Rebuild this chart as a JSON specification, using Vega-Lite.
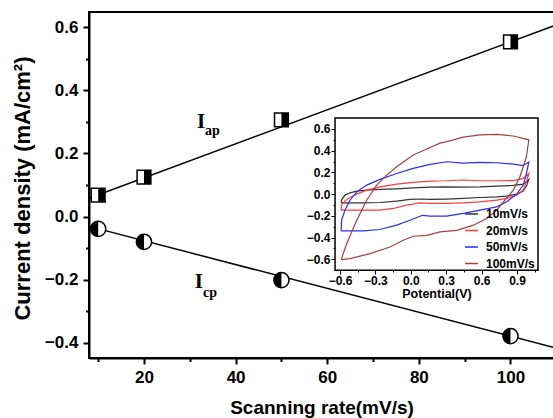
{
  "$schema": "https://vega.github.io/schema/vega-lite/v6.json",
  "width": 465,
  "height": 346,
  "autosize": {"type": "none"},
  "padding": {"left": 89, "top": 12, "right": 0, "bottom": 60},
  "background": "white",
  "config": {
    "view": {"stroke": "black", "strokeWidth": 2},
    "axis": {"grid": false, "labelColor": "black", "titleColor": "black", "tickColor": "black", "domainColor": "black", "labelFont": "Liberation Sans", "titleFont": "Liberation Sans", "labelFontWeight": "bold", "titleFontWeight": "bold"},
    "legend": {"labelFont": "Liberation Sans"}
  },
  "datasets": {
    "ap": [{"x": 10, "y": 0.068}, {"x": 20, "y": 0.125}, {"x": 50, "y": 0.306}, {"x": 100, "y": 0.553}],
    "cp": [{"x": 10, "y": -0.039}, {"x": 20, "y": -0.080}, {"x": 50, "y": -0.201}, {"x": 100, "y": -0.378}],
    "fit": [{"x": 8, "y": 0.058, "s": "ap"}, {"x": 109.5, "y": 0.604, "s": "ap"}, {"x": 8, "y": -0.031, "s": "cp"}, {"x": 109.5, "y": -0.414, "s": "cp"}],
    "lab": [{"x": 31.6, "y": 0.28, "t": "I"}, {"x": 31.1, "y": -0.226, "t": "I"}],
    "sub": [{"x": 33.3, "y": 0.258, "t": "ap"}, {"x": 32.9, "y": -0.254, "t": "cp"}],
    "frame": [{"v": -0.642, "v2": 1.078, "i": -0.70, "i2": 0.70}],
    "cv": [
      {"r": "10mV/s", "o": 1, "v": -0.59, "i": -0.08}, {"r": "10mV/s", "o": 2, "v": -0.586, "i": -0.05}, {"r": "10mV/s", "o": 3, "v": -0.558, "i": -0.009}, {"r": "10mV/s", "o": 4, "v": -0.515, "i": 0.012}, {"r": "10mV/s", "o": 5, "v": -0.458, "i": 0.028}, {"r": "10mV/s", "o": 6, "v": -0.374, "i": 0.037}, {"r": "10mV/s", "o": 7, "v": -0.261, "i": 0.043}, {"r": "10mV/s", "o": 8, "v": -0.12, "i": 0.049}, {"r": "10mV/s", "o": 9, "v": 0.021, "i": 0.058}, {"r": "10mV/s", "o": 10, "v": 0.163, "i": 0.064}, {"r": "10mV/s", "o": 11, "v": 0.304, "i": 0.067}, {"r": "10mV/s", "o": 12, "v": 0.445, "i": 0.064}, {"r": "10mV/s", "o": 13, "v": 0.586, "i": 0.067}, {"r": "10mV/s", "o": 14, "v": 0.728, "i": 0.074}, {"r": "10mV/s", "o": 15, "v": 0.869, "i": 0.08}, {"r": "10mV/s", "o": 16, "v": 0.953, "i": 0.092}, {"r": "10mV/s", "o": 17, "v": 1.0, "i": 0.136}, {"r": "10mV/s", "o": 18, "v": 0.98, "i": 0.074}, {"r": "10mV/s", "o": 19, "v": 0.953, "i": 0.028}, {"r": "10mV/s", "o": 20, "v": 0.897, "i": 0.0}, {"r": "10mV/s", "o": 21, "v": 0.813, "i": -0.018}, {"r": "10mV/s", "o": 22, "v": 0.728, "i": -0.025}, {"r": "10mV/s", "o": 23, "v": 0.586, "i": -0.031}, {"r": "10mV/s", "o": 24, "v": 0.445, "i": -0.04}, {"r": "10mV/s", "o": 25, "v": 0.304, "i": -0.046}, {"r": "10mV/s", "o": 26, "v": 0.163, "i": -0.049}, {"r": "10mV/s", "o": 27, "v": 0.106, "i": -0.045}, {"r": "10mV/s", "o": 28, "v": -0.007, "i": -0.049}, {"r": "10mV/s", "o": 29, "v": -0.12, "i": -0.065}, {"r": "10mV/s", "o": 30, "v": -0.261, "i": -0.077}, {"r": "10mV/s", "o": 31, "v": -0.403, "i": -0.08}, {"r": "10mV/s", "o": 32, "v": -0.54, "i": -0.08}, {"r": "10mV/s", "o": 33, "v": -0.59, "i": -0.08},
      {"r": "20mV/s", "o": 1, "v": -0.59, "i": -0.148}, {"r": "20mV/s", "o": 2, "v": -0.586, "i": -0.1}, {"r": "20mV/s", "o": 3, "v": -0.558, "i": -0.062}, {"r": "20mV/s", "o": 4, "v": -0.515, "i": -0.031}, {"r": "20mV/s", "o": 5, "v": -0.458, "i": 0.0}, {"r": "20mV/s", "o": 6, "v": -0.374, "i": 0.037}, {"r": "20mV/s", "o": 7, "v": -0.261, "i": 0.067}, {"r": "20mV/s", "o": 8, "v": -0.12, "i": 0.092}, {"r": "20mV/s", "o": 9, "v": 0.021, "i": 0.108}, {"r": "20mV/s", "o": 10, "v": 0.163, "i": 0.12}, {"r": "20mV/s", "o": 11, "v": 0.304, "i": 0.123}, {"r": "20mV/s", "o": 12, "v": 0.445, "i": 0.13}, {"r": "20mV/s", "o": 13, "v": 0.586, "i": 0.123}, {"r": "20mV/s", "o": 14, "v": 0.728, "i": 0.123}, {"r": "20mV/s", "o": 15, "v": 0.869, "i": 0.125}, {"r": "20mV/s", "o": 16, "v": 0.953, "i": 0.145}, {"r": "20mV/s", "o": 17, "v": 1.0, "i": 0.19}, {"r": "20mV/s", "o": 18, "v": 0.98, "i": 0.114}, {"r": "20mV/s", "o": 19, "v": 0.953, "i": 0.037}, {"r": "20mV/s", "o": 20, "v": 0.897, "i": -0.009}, {"r": "20mV/s", "o": 21, "v": 0.813, "i": -0.04}, {"r": "20mV/s", "o": 22, "v": 0.728, "i": -0.056}, {"r": "20mV/s", "o": 23, "v": 0.586, "i": -0.071}, {"r": "20mV/s", "o": 24, "v": 0.445, "i": -0.08}, {"r": "20mV/s", "o": 25, "v": 0.304, "i": -0.086}, {"r": "20mV/s", "o": 26, "v": 0.163, "i": -0.086}, {"r": "20mV/s", "o": 27, "v": 0.078, "i": -0.08}, {"r": "20mV/s", "o": 28, "v": -0.035, "i": -0.102}, {"r": "20mV/s", "o": 29, "v": -0.148, "i": -0.132}, {"r": "20mV/s", "o": 30, "v": -0.261, "i": -0.148}, {"r": "20mV/s", "o": 31, "v": -0.403, "i": -0.148}, {"r": "20mV/s", "o": 32, "v": -0.59, "i": -0.148},
      {"r": "50mV/s", "o": 1, "v": -0.59, "i": -0.339}, {"r": "50mV/s", "o": 2, "v": -0.586, "i": -0.24}, {"r": "50mV/s", "o": 3, "v": -0.558, "i": -0.148}, {"r": "50mV/s", "o": 4, "v": -0.515, "i": -0.056}, {"r": "50mV/s", "o": 5, "v": -0.458, "i": 0.021}, {"r": "50mV/s", "o": 6, "v": -0.374, "i": 0.083}, {"r": "50mV/s", "o": 7, "v": -0.261, "i": 0.136}, {"r": "50mV/s", "o": 8, "v": -0.12, "i": 0.19}, {"r": "50mV/s", "o": 9, "v": 0.021, "i": 0.237}, {"r": "50mV/s", "o": 10, "v": 0.163, "i": 0.274}, {"r": "50mV/s", "o": 11, "v": 0.304, "i": 0.298}, {"r": "50mV/s", "o": 12, "v": 0.445, "i": 0.285}, {"r": "50mV/s", "o": 13, "v": 0.586, "i": 0.292}, {"r": "50mV/s", "o": 14, "v": 0.728, "i": 0.289}, {"r": "50mV/s", "o": 15, "v": 0.869, "i": 0.277}, {"r": "50mV/s", "o": 16, "v": 0.953, "i": 0.262}, {"r": "50mV/s", "o": 17, "v": 1.0, "i": 0.295}, {"r": "50mV/s", "o": 18, "v": 0.98, "i": 0.19}, {"r": "50mV/s", "o": 19, "v": 0.953, "i": 0.083}, {"r": "50mV/s", "o": 20, "v": 0.897, "i": 0.0}, {"r": "50mV/s", "o": 21, "v": 0.813, "i": -0.071}, {"r": "50mV/s", "o": 22, "v": 0.728, "i": -0.117}, {"r": "50mV/s", "o": 23, "v": 0.586, "i": -0.148}, {"r": "50mV/s", "o": 24, "v": 0.445, "i": -0.178}, {"r": "50mV/s", "o": 25, "v": 0.304, "i": -0.203}, {"r": "50mV/s", "o": 26, "v": 0.163, "i": -0.203}, {"r": "50mV/s", "o": 27, "v": 0.1, "i": -0.195}, {"r": "50mV/s", "o": 28, "v": -0.007, "i": -0.24}, {"r": "50mV/s", "o": 29, "v": -0.12, "i": -0.286}, {"r": "50mV/s", "o": 30, "v": -0.261, "i": -0.326}, {"r": "50mV/s", "o": 31, "v": -0.403, "i": -0.339}, {"r": "50mV/s", "o": 32, "v": -0.59, "i": -0.339},
      {"r": "100mV/s", "o": 1, "v": -0.59, "i": -0.603}, {"r": "100mV/s", "o": 2, "v": -0.543, "i": -0.455}, {"r": "100mV/s", "o": 3, "v": -0.458, "i": -0.24}, {"r": "100mV/s", "o": 4, "v": -0.374, "i": -0.056}, {"r": "100mV/s", "o": 5, "v": -0.289, "i": 0.083}, {"r": "100mV/s", "o": 6, "v": -0.204, "i": 0.175}, {"r": "100mV/s", "o": 7, "v": -0.12, "i": 0.252}, {"r": "100mV/s", "o": 8, "v": 0.021, "i": 0.36}, {"r": "100mV/s", "o": 9, "v": 0.163, "i": 0.43}, {"r": "100mV/s", "o": 10, "v": 0.247, "i": 0.47}, {"r": "100mV/s", "o": 11, "v": 0.332, "i": 0.49}, {"r": "100mV/s", "o": 12, "v": 0.445, "i": 0.525}, {"r": "100mV/s", "o": 13, "v": 0.586, "i": 0.545}, {"r": "100mV/s", "o": 14, "v": 0.728, "i": 0.55}, {"r": "100mV/s", "o": 15, "v": 0.869, "i": 0.535}, {"r": "100mV/s", "o": 16, "v": 1.0, "i": 0.5}, {"r": "100mV/s", "o": 17, "v": 0.98, "i": 0.344}, {"r": "100mV/s", "o": 18, "v": 0.925, "i": 0.16}, {"r": "100mV/s", "o": 19, "v": 0.869, "i": 0.037}, {"r": "100mV/s", "o": 20, "v": 0.798, "i": -0.056}, {"r": "100mV/s", "o": 21, "v": 0.728, "i": -0.148}, {"r": "100mV/s", "o": 22, "v": 0.643, "i": -0.225}, {"r": "100mV/s", "o": 23, "v": 0.53, "i": -0.286}, {"r": "100mV/s", "o": 24, "v": 0.389, "i": -0.333}, {"r": "100mV/s", "o": 25, "v": 0.247, "i": -0.348}, {"r": "100mV/s", "o": 26, "v": 0.135, "i": -0.379}, {"r": "100mV/s", "o": 27, "v": 0.021, "i": -0.388}, {"r": "100mV/s", "o": 28, "v": -0.064, "i": -0.425}, {"r": "100mV/s", "o": 29, "v": -0.176, "i": -0.487}, {"r": "100mV/s", "o": 30, "v": -0.346, "i": -0.548}, {"r": "100mV/s", "o": 31, "v": -0.515, "i": -0.594}, {"r": "100mV/s", "o": 32, "v": -0.59, "i": -0.603}
    ]
  },
  "layer": [
    {
      "encoding": {
        "x": {"field": "x", "type": "quantitative", "scale": {"domain": [8, 109.5], "nice": false, "zero": false},
          "axis": {"title": "Scanning rate(mV/s)", "values": [10, 20, 30, 40, 50, 60, 70, 80, 90, 100], "format": "d",
            "labelExpr": "datum.value % 20 === 0 ? datum.label : ''",
            "tickSize": {"condition": {"test": "datum.value % 20 === 0", "value": 6}, "value": 3.5},
            "tickWidth": 2, "domainWidth": 2, "labelFontSize": 17, "labelPadding": 5, "titleFontSize": 19, "titlePadding": 13}},
        "y": {"field": "y", "type": "quantitative", "scale": {"domain": [-0.4475, 0.6475], "nice": false, "zero": false},
          "axis": {"title": "Current density (mA/cm²)", "values": [-0.4, -0.3, -0.2, -0.1, 0, 0.1, 0.2, 0.3, 0.4, 0.5, 0.6], "format": ".1f",
            "labelExpr": "abs(round(datum.value * 10)) % 2 === 0 ? datum.label : ''",
            "tickSize": {"condition": {"test": "abs(round(datum.value * 10)) % 2 === 0", "value": 6}, "value": 3.5},
            "tickWidth": 2, "domainWidth": 2, "labelFontSize": 17, "labelPadding": 5, "titleFontSize": 22, "titlePadding": 10, "titleY": 176}}
      },
      "layer": [
        {"data": {"name": "fit"}, "mark": {"type": "line", "color": "black", "strokeWidth": 1.5}, "encoding": {"detail": {"field": "s"}}},
        {"data": {"name": "ap"}, "mark": {"type": "point", "shape": "square", "filled": true, "fill": "white", "stroke": "black", "strokeWidth": 1.5, "size": 190, "opacity": 1}},
        {"data": {"name": "ap"}, "mark": {"type": "point", "shape": "M0,-1L1,-1L1,1L0,1Z", "filled": true, "fill": "black", "strokeWidth": 0, "size": 190, "opacity": 1}},
        {"data": {"name": "cp"}, "mark": {"type": "point", "shape": "circle", "filled": true, "fill": "white", "stroke": "black", "strokeWidth": 1.5, "size": 231, "opacity": 1}},
        {"data": {"name": "cp"}, "mark": {"type": "point", "shape": "M0,-1A1,1,0,0,0,0,1Z", "filled": true, "fill": "black", "strokeWidth": 0, "size": 231, "opacity": 1}},
        {"data": {"name": "lab"}, "mark": {"type": "text", "align": "left", "baseline": "alphabetic", "font": "Liberation Serif", "fontWeight": "bold", "fontSize": 21, "color": "black"}, "encoding": {"text": {"field": "t"}}},
        {"data": {"name": "sub"}, "mark": {"type": "text", "align": "left", "baseline": "alphabetic", "font": "Liberation Serif", "fontWeight": "bold", "fontSize": 14, "color": "black"}, "encoding": {"text": {"field": "t"}}}
      ]
    },
    {
      "encoding": {
        "x": {"field": "v", "type": "quantitative", "scale": {"domain": [-2.727, 1.2136], "nice": false, "zero": false},
          "axis": {"orient": "bottom", "offset": -88, "domain": false, "title": "Potential(V)", "titleX": 347.5,
            "values": [-0.6, -0.45, -0.3, -0.15, 0, 0.15, 0.3, 0.45, 0.6, 0.75, 0.9, 1.05], "format": ".1f",
            "labelExpr": "abs(round(datum.value * 100)) % 30 === 0 ? datum.label : ''",
            "tickSize": {"condition": {"test": "abs(round(datum.value * 100)) % 30 === 0", "value": 4}, "value": 2},
            "tickWidth": 1, "labelFontSize": 12, "labelPadding": 1, "titleFontSize": 12.5, "titlePadding": 1}},
        "y": {"field": "i", "type": "quantitative", "scale": {"domain": [-1.509, 1.677], "nice": false, "zero": false},
          "axis": {"orient": "left", "offset": -246, "domain": false, "title": null,
            "values": [-0.6, -0.5, -0.4, -0.3, -0.2, -0.1, 0, 0.1, 0.2, 0.3, 0.4, 0.5, 0.6], "format": ".1f",
            "labelExpr": "abs(round(datum.value * 10)) % 2 === 0 ? datum.label : ''",
            "tickSize": {"condition": {"test": "abs(round(datum.value * 10)) % 2 === 0", "value": 4}, "value": 2},
            "tickWidth": 1, "labelFontSize": 12, "labelPadding": 1}}
      },
      "layer": [
        {"data": {"name": "frame"}, "mark": {"type": "rect", "fill": "white", "stroke": "black", "strokeWidth": 1.5}, "encoding": {"x2": {"field": "v2"}, "y2": {"field": "i2"}}},
        {"data": {"name": "cv"}, "mark": {"type": "line", "strokeWidth": 1.2},
          "encoding": {"order": {"field": "o", "type": "quantitative"},
            "color": {"field": "r", "type": "nominal",
              "scale": {"domain": ["10mV/s", "20mV/s", "50mV/s", "100mV/s"], "range": ["#333333", "#ff3b3b", "#2b2bff", "#a5403f"]},
              "legend": {"orient": "none", "legendX": 375, "legendY": 194.5, "title": null, "symbolType": "stroke", "symbolStrokeWidth": 1.5, "symbolSize": 170, "labelFontSize": 12, "labelFontWeight": "bold", "labelColor": "black", "rowPadding": 2.5, "labelOffset": 7, "padding": 0}}}}
      ]
    }
  ],
  "resolve": {"scale": {"x": "independent", "y": "independent"}, "axis": {"x": "independent", "y": "independent"}}
}
